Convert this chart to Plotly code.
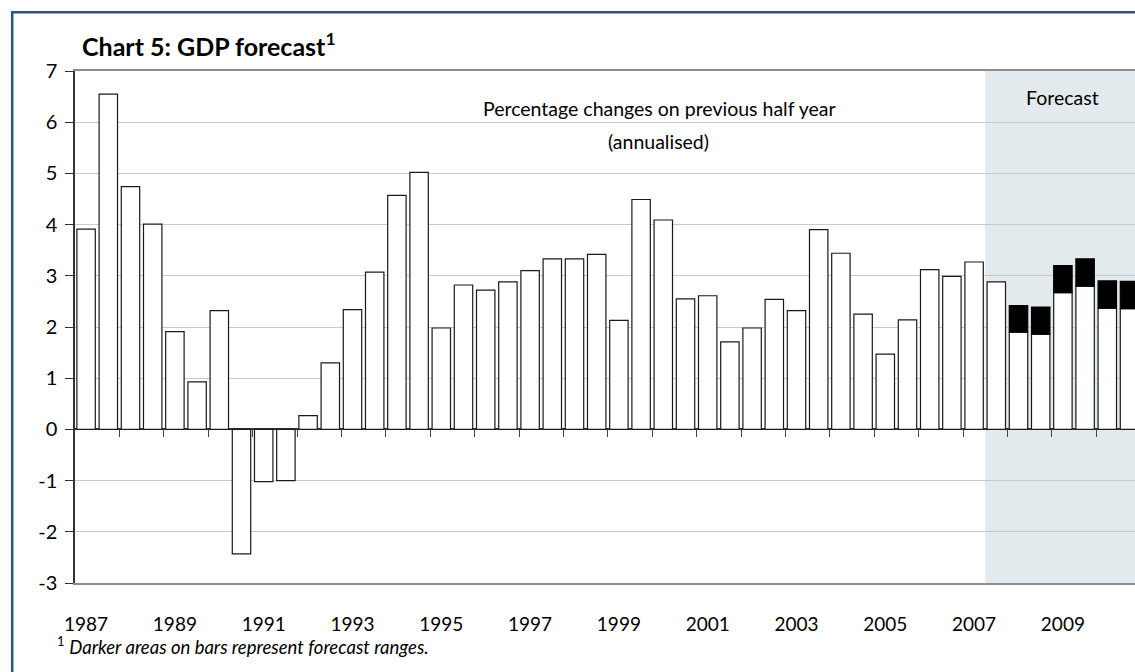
import plotly.graph_objects as go

# Half-yearly GDP growth, annualised % change on previous half year
years = list(range(1987, 2011))
halves = ["H1", "H2"]
periods = [f"{y} {h}" for y in years for h in halves]

growth = [3.91, 6.55, 4.74, 4.01, 1.91, 0.93, 2.32, -2.43, -1.02, -1.00,
          0.27, 1.30, 2.34, 3.07, 4.57, 5.02, 1.98, 2.82, 2.72, 2.88,
          3.10, 3.33, 3.33, 3.42, 2.13, 4.49, 4.09, 2.55, 2.61, 1.71,
          1.98, 2.54, 2.32, 3.90, 3.44, 2.25, 1.47, 2.14, 3.12, 2.99,
          3.27, 2.88, 1.90, 1.86, 2.67, 2.80, 2.37, 2.36]

# Upper end of the forecast range for the forecast half years
range_periods = ["2008 H1", "2008 H2", "2009 H1", "2009 H2", "2010 H1", "2010 H2"]
range_high = [2.42, 2.39, 3.20, 3.33, 2.90, 2.89]

forecast_start = "2007 H2"
label_years = [1987, 1989, 1991, 1993, 1995, 1997, 1999, 2001, 2003, 2005, 2007, 2009]

y_ticks = list(range(-3, 8))
y_tick_text = [str(v) for v in y_ticks]  # plain hyphen for negatives

FONT = "Lato, 'Open Sans', sans-serif"
W, H = 1135, 672
ML, MR, MT, MB = 75, 0, 71, 89
PW, PH = W - ML - MR, H - MT - MB
PX_PER_CAT = 22.2

idx = {p: i for i, p in enumerate(periods)}
xs = list(range(len(periods)))
x_max = -0.5 + PW / PX_PER_CAT

low = [growth[idx[p]] for p in range_periods]
span = [h - l for h, l in zip(range_high, low)]
range_x = [idx[p] for p in range_periods]

year_bounds = [i + 0.5 for i, p in enumerate(periods) if p.endswith("H2") and i < len(periods) - 1]
label_pos = [idx[f"{y} H1"] for y in label_years]


def px_x(px):
    return (px - ML) / PW


def px_y(py):
    return (H - MB - py) / PH


fig = go.Figure()

fig.add_trace(go.Bar(
    x=xs, y=growth, width=0.83,
    marker=dict(color="white", line=dict(color="#1a1a1a", width=1.2)),
    hoverinfo="skip", showlegend=False,
))

fig.add_trace(go.Bar(
    x=range_x, y=span, base=low, width=0.83,
    xaxis="x2", yaxis="y",
    marker=dict(color="black", line=dict(color="black", width=1.2)),
    hoverinfo="skip", showlegend=False,
))

# Forecast period shading
fig.add_shape(
    type="rect", xref="x", yref="paper",
    x0=idx[forecast_start] - 0.5, x1=x_max + 5, y0=0, y1=1,
    fillcolor="#e3eaee", line=dict(width=0), layer="below",
)

# Outer frame
fig.add_shape(
    type="rect", xref="paper", yref="paper",
    x0=px_x(12.2), x1=px_x(W + 40), y0=px_y(12.2), y1=px_y(H + 40),
    line=dict(color="#1d5b7f", width=2.5), fillcolor="rgba(0,0,0,0)", layer="above",
)

annotations = [
    dict(text="<b>Chart 5: GDP forecast<sup>1</sup></b>", x=px_x(80), y=px_y(44),
         xanchor="left", yanchor="middle", font=dict(size=25, color="black")),
    dict(text="Percentage changes on previous half year", x=px_x(659), y=px_y(108),
         xanchor="center", yanchor="middle", font=dict(size=19.5, color="black")),
    dict(text="(annualised)", x=px_x(658), y=px_y(141),
         xanchor="center", yanchor="middle", font=dict(size=19.5, color="black")),
    dict(text="Forecast", x=px_x(1062), y=px_y(97),
         xanchor="center", yanchor="middle", font=dict(size=19.5, color="black")),
    dict(text="<sup>1</sup> <i>Darker areas on bars represent forecast ranges.</i>",
         x=px_x(55), y=px_y(645), xanchor="left", yanchor="middle",
         font=dict(size=18.5, color="black")),
]
for a in annotations:
    a.update(xref="paper", yref="paper", showarrow=False)

fig.update_layout(
    width=W, height=H,
    margin=dict(l=ML, r=MR, t=MT, b=MB, pad=0),
    paper_bgcolor="white", plot_bgcolor="white",
    font=dict(family=FONT, color="black"),
    barmode="overlay",
    annotations=annotations,
    xaxis=dict(
        range=[-0.5, x_max], tickmode="array", tickvals=label_pos,
        ticktext=[str(y) for y in label_years], ticks="",
        tickfont=dict(size=19), ticklabelstandoff=23,
        showline=True, mirror=True, linecolor="#8c8c8c", linewidth=2,
        showgrid=False, zeroline=False,
    ),
    xaxis2=dict(
        overlaying="x", anchor="free", position=0.3,
        range=[-0.5, x_max], tickmode="array", tickvals=year_bounds,
        ticks="outside", ticklen=7, tickwidth=1.3, tickcolor="#444",
        showticklabels=False, showline=False, showgrid=False, zeroline=False,
    ),
    yaxis=dict(
        range=[-3, 7], tickmode="array", tickvals=y_ticks, ticktext=y_tick_text,
        ticks="outside", ticklen=8, tickwidth=1, tickcolor="#333",
        tickfont=dict(size=20), ticklabelstandoff=4,
        showline=True, linecolor="#333", linewidth=1.5,
        gridcolor="#cacaca", gridwidth=1,
        zeroline=True, zerolinecolor="#333", zerolinewidth=1.5,
    ),
)

fig.write_html("out.html")
